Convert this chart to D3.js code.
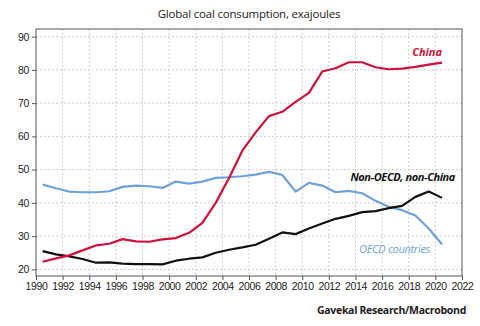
<!DOCTYPE html>
<html>
<head>
<meta charset="utf-8">
<script src="https://cdn.jsdelivr.net/npm/d3@7"></script>
<style>
  body { margin: 0; background: #fff; }
  svg { display: block; font-family: "Open Sans", sans-serif; }
  .tick text { font-size: 10.5px; fill: #222; letter-spacing: -0.35px; }
</style>
</head>
<body>
<div id="chart"></div>
<script>
const years = d3.range(1990, 2021);
const china = [22.3, 23.3, 24.2, 25.7, 27.2, 27.7, 29.1, 28.4, 28.3, 29.0, 29.4, 31.0, 34.0, 40.0, 47.5, 55.7, 61.2, 66.1, 67.4, 70.4, 73.1, 79.5, 80.5, 82.3, 82.3, 80.8, 80.2, 80.4, 80.9, 81.6, 82.2];
const oecd = [45.5, 44.4, 43.4, 43.2, 43.2, 43.5, 44.8, 45.2, 45.0, 44.5, 46.4, 45.8, 46.4, 47.5, 47.7, 48.0, 48.5, 49.3, 48.4, 43.4, 46.0, 45.2, 43.2, 43.6, 42.9, 40.6, 38.8, 37.8, 36.2, 32.3, 27.5];
const nonOecd = [25.5, 24.5, 23.9, 23.1, 22.0, 22.1, 21.7, 21.6, 21.6, 21.5, 22.6, 23.2, 23.6, 25.0, 25.9, 26.6, 27.4, 29.2, 31.1, 30.6, 32.3, 33.8, 35.2, 36.1, 37.2, 37.5, 38.4, 39.1, 41.8, 43.4, 41.5];
const yTicks = [20, 30, 40, 50, 60, 70, 80, 90];
const xTicks = d3.range(1990, 2023, 2);

const width = 480;
const height = 326;
const plotLeft = 36, plotRight = 462, plotTop = 29, plotBottom = 276;

const svg = d3.select('#chart')
  .append('svg')
  .attr('width', width)
  .attr('height', height)

const x = d3.scaleLinear().domain([1990, 2022]).range([plotLeft, plotRight]);
const y = d3.scaleLinear().domain([18, 92.3]).range([plotBottom, plotTop]);

// grid
svg.append('g')
  .selectAll('line')
  .data(yTicks)
  .enter()
  .append('line')
  .attr('x1', plotLeft).attr('x2', plotRight)
  .attr('y1', d => y(d)).attr('y2', d => y(d))
  .style('stroke', '#cccccc')
  .style('stroke-dasharray', '2,2')

svg.append('g')
  .selectAll('line')
  .data(xTicks.slice(1, -1))
  .enter()
  .append('line')
  .attr('x1', d => x(d)).attr('x2', d => x(d))
  .attr('y1', plotTop).attr('y2', plotBottom)
  .style('stroke', '#cccccc')
  .style('stroke-dasharray', '2,2')

// frame
svg.append('rect')
  .attr('x', plotLeft).attr('y', plotTop)
  .attr('width', plotRight - plotLeft).attr('height', plotBottom - plotTop)
  .style('fill', 'none')
  .style('stroke', '#555')
  .style('stroke-width', 1)

const yAxis = d3.axisLeft(y).tickValues(yTicks).tickSize(4).tickPadding(3);
const xAxis = d3.axisBottom(x).tickValues(xTicks).tickFormat(d3.format('d')).tickSize(4).tickPadding(3);

svg.append('g')
  .attr('transform', `translate(${plotLeft},0)`)
  .call(yAxis)
  .call(g => g.select('.domain').remove())
  .call(g => g.selectAll('line').style('stroke', '#555'))

svg.append('g')
  .attr('transform', `translate(0,${plotBottom})`)
  .call(xAxis)
  .call(g => g.select('.domain').remove())
  .call(g => g.selectAll('line').style('stroke', '#555'))

const line = (vals) => d3.line()
  .x((d, i) => x(years[i] + 0.5))
  .y(d => y(d))(vals);

const series = [
  { vals: oecd, color: '#6fa1d8' },
  { vals: nonOecd, color: '#111111' },
  { vals: china, color: '#d0103a' }
];

svg.selectAll('path.series')
  .data(series)
  .enter()
  .append('path')
  .attr('class', 'series')
  .attr('d', d => line(d.vals))
  .style('fill', 'none')
  .style('stroke', d => d.color)
  .style('stroke-width', 2.2)
  .style('stroke-linejoin', 'round')

// labels
svg.append('text')
  .attr('x', 249).attr('y', 18)
  .style('text-anchor', 'middle')
  .style('font-size', '11.5px')
  .style('letter-spacing', '-0.2px')
  .style('fill', '#222')
  .text('Global coal consumption, exajoules')

svg.append('text')
  .attr('x', 442).attr('y', 56)
  .style('text-anchor', 'end')
  .style('font-size', '11px')
  .style('font-style', 'italic')
  .style('font-weight', 'bold')
  .style('fill', '#d0103a')
  .text('China')

svg.append('text')
  .attr('x', 455).attr('y', 181)
  .style('text-anchor', 'end')
  .style('font-size', '11px')
  .style('font-style', 'italic')
  .style('font-weight', 'bold')
  .style('letter-spacing', '-0.4px')
  .style('fill', '#111')
  .text('Non-OECD, non-China')

svg.append('text')
  .attr('x', 430).attr('y', 253)
  .style('text-anchor', 'end')
  .style('font-size', '11px')
  .style('font-style', 'italic')
  .style('letter-spacing', '-0.3px')
  .style('fill', '#6fa1d8')
  .text('OECD countries')

svg.append('text')
  .attr('x', 466).attr('y', 314)
  .style('text-anchor', 'end')
  .style('font-size', '10.5px')
  .style('font-weight', 'bold')
  .style('letter-spacing', '-0.3px')
  .style('fill', '#222')
  .text('Gavekal Research/Macrobond')
</script>
</body>
</html>
